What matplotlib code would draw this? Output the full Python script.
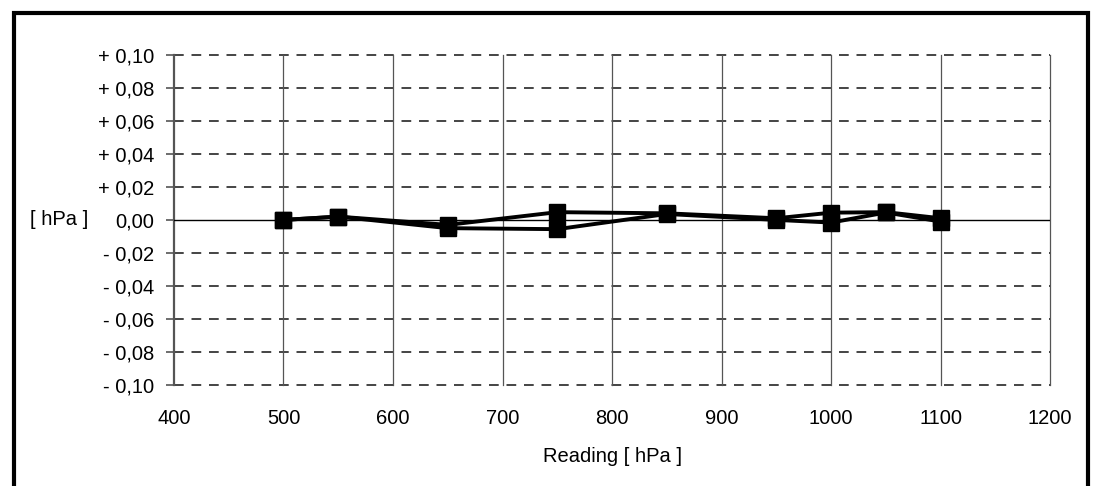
import numpy as np
import matplotlib
matplotlib.use("Agg")
from matplotlib import pyplot as plt
from matplotlib.patches import Rectangle

# readings and deviations
reading = [500, 550, 650, 750, 850, 950, 1000, 1050, 1100]
dev_up = [0.000, 0.002, -0.003, 0.0047, 0.004, 0.001, 0.0044, 0.0047, 0.001]
dev_down = [0.000, 0.002, -0.005, -0.0056, 0.0036, 0.000, -0.0016, 0.0045, -0.001]

xticks = [400, 500, 600, 700, 800, 900, 1000, 1100, 1200]
yticks = [-0.10, -0.08, -0.06, -0.04, -0.02, 0.0, 0.02, 0.04, 0.06, 0.08, 0.10]


def ylab(v):
    s = "%.2f" % abs(v)
    s = s.replace(".", ",")
    if v > 0.0001:
        return "+ " + s
    if v < -0.0001:
        return "- " + s
    return s


plt.rcParams['font.family'] = ['Liberation Sans', 'DejaVu Sans']
fs = 14.5

fig = plt.figure(figsize=(10.94, 4.86), dpi=100)
ax = fig.add_axes([0.159, 0.208, 0.801, 0.679])

for ser in (dev_up, dev_down):
    ax.plot(reading, ser, color='black', lw=2.8, marker='s', ms=11,
            mfc='black', mec='black', zorder=5)

ax.set_xlim(400, 1200)
ax.set_ylim(-0.10, 0.10)
ax.set_xticks(xticks)
ax.set_yticks(yticks)
ax.set_yticklabels([ylab(v) for v in yticks])

ax.axhline(0, color='black', lw=1.0, zorder=3)
for y in yticks:
    if abs(y) > 1e-9:
        ax.axhline(y, color='#444444', lw=1.4, ls=(0, (5, 4)), zorder=1, clip_on=False)
for x in xticks[1:]:
    ax.axvline(x, color='#555555', lw=0.9, zorder=1, clip_on=False)

for s in ('top', 'right', 'bottom'):
    ax.spines[s].set_visible(False)
ax.spines['left'].set_color('#555555')
ax.spines['left'].set_linewidth(1.6)

ax.tick_params(axis='y', length=6, width=1.2, color='#555555', pad=8, labelsize=fs)
ax.tick_params(axis='x', length=0, pad=17, labelsize=fs)

ax.set_xlabel("Reading [ hPa ]", fontsize=fs, labelpad=14)
fig.text(0.027, 0.548, "[ hPa ]", fontsize=fs, ha='left', va='center')

# outer frame of the figure
fig.patches.append(Rectangle((0.0125, -0.05), 0.982, 1.024, transform=fig.transFigure,
                             fill=False, lw=3, edgecolor='black'))

fig.savefig("out.png", dpi=100)
